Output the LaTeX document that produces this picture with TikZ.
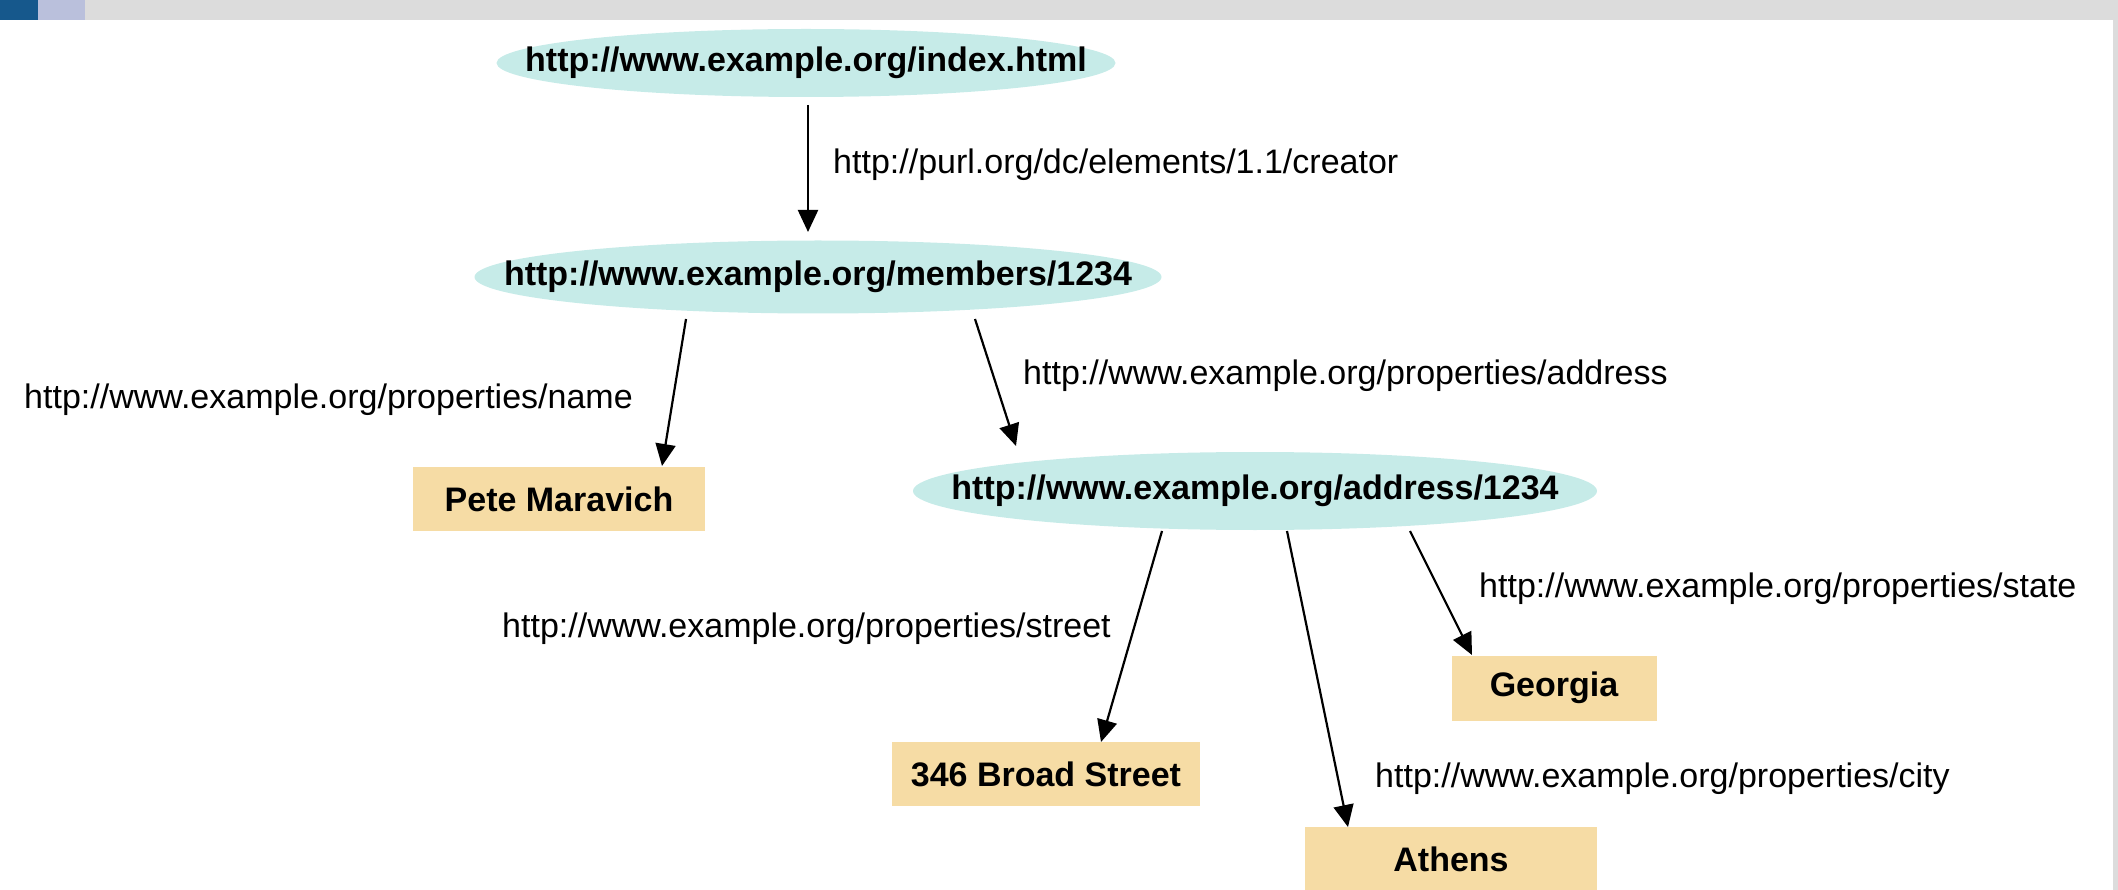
\documentclass[tikz,border=0pt]{standalone}
\usepackage{fontspec}
\setmainfont{Liberation Sans}
\usetikzlibrary{shapes.geometric, arrows.meta}

\definecolor{resfill}{RGB}{198,235,232}
\definecolor{litfill}{RGB}{246,220,165}
\definecolor{bardark}{RGB}{22,88,140}
\definecolor{barlight}{RGB}{186,192,220}
\definecolor{bargrey}{RGB}{220,220,220}

\begin{document}
\begin{tikzpicture}[x=1pt, y=-1pt,
    res/.style={ellipse, fill=resfill, inner sep=0pt, font=\fontsize{34}{40}\selectfont\bfseries},
    lit/.style={rectangle, fill=litfill, inner sep=0pt, font=\fontsize{34}{40}\selectfont\bfseries},
    prop/.style={anchor=west, inner sep=0pt, font=\fontsize{34}{40}\selectfont},
    >={Triangle[length=22pt, width=20pt]}]
    \useasboundingbox (0, 0) rectangle (2118, 890);

    %Frame
    \fill[bargrey] (0, 0) rectangle (2118, 20);
    \fill[bardark] (0, 0) rectangle (38, 20);
    \fill[barlight] (38, 0) rectangle (85, 20);
    \fill[bargrey] (2113, 20) rectangle (2118, 890);

    %Nodes
    \node[res, minimum width=619pt, minimum height=68pt] at (806, 63) (idx) {\makebox[0pt]{http://www.example.org/index.html}};
    \node[res, minimum width=687pt, minimum height=73pt] at (818, 277) (mem) {\makebox[0pt]{http://www.example.org/members/1234}};
    \node[res, minimum width=684pt, minimum height=78pt] at (1255, 491) (addr) {\makebox[0pt]{http://www.example.org/address/1234}};

    \node[lit, minimum width=292pt, minimum height=64pt] at (559, 499) (pete) {Pete Maravich};
    \node[lit, minimum width=308pt, minimum height=64pt] at (1046, 774) (street) {346 Broad Street};
    \node[lit, minimum width=205pt, minimum height=65pt] at (1554, 688) (georgia) {Georgia};
    \node[lit, minimum width=292pt, minimum height=64pt] at (1451, 859) (athens) {Athens};

    %Labels
    \node[prop] at (833, 165) (pcreator) {http://purl.org/dc/elements/1.1/creator};
    \node[prop] at (24, 400) (pname) {http://www.example.org/properties/name};
    \node[prop] at (1023, 376) (paddr) {http://www.example.org/properties/address};
    \node[prop] at (502, 629) (pstreet) {http://www.example.org/properties/street};
    \node[prop] at (1479, 589) (pstate) {http://www.example.org/properties/state};
    \node[prop] at (1375, 779) (pcity) {http://www.example.org/properties/city};

    %Lines
    \draw[->, line width=2.2pt] ([shift={(2, 42)}]idx.center) -- ([shift={(-10, -45)}]mem.center);
    \draw[->, line width=2.2pt] ([shift={(-132, 42)}]mem.center) -- ([shift={(103, -33)}]pete.center);
    \draw[->, line width=2.2pt] ([shift={(157, 42)}]mem.center) -- ([shift={(-239, -45)}]addr.center);
    \draw[->, line width=2.2pt] ([shift={(-93, 40)}]addr.center) -- ([shift={(55, -32)}]street.center);
    \draw[->, line width=2.2pt] ([shift={(32, 40)}]addr.center) -- ([shift={(-103, -32)}]athens.center);
    \draw[->, line width=2.2pt] ([shift={(155, 40)}]addr.center) -- ([shift={(-82, -33)}]georgia.center);

\end{tikzpicture}
\end{document}
